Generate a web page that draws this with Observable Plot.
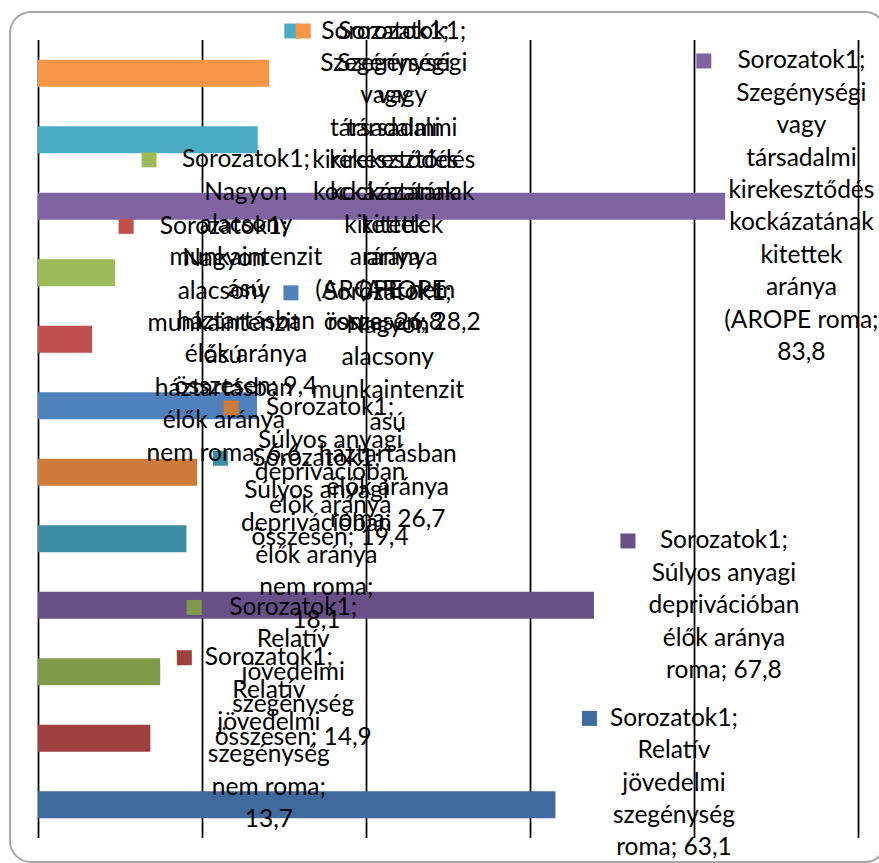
<!DOCTYPE html>
<html><head><meta charset="utf-8">
<script src="https://cdn.jsdelivr.net/npm/d3@7"></script>
<script src="https://cdn.jsdelivr.net/npm/@observablehq/plot@0.6"></script>
<style>
html,body{margin:0;padding:0;background:#fff;overflow:hidden;}
#wrap{position:relative;width:879px;height:863px;overflow:hidden;background:#fff;}
#frame{position:absolute;left:9px;top:11px;width:878px;height:852px;box-sizing:border-box;border:2px solid #a6a6a6;border-radius:22px;pointer-events:none;}
#chart{position:absolute;left:0;top:0;}
</style></head><body>
<div id="wrap"><div id="chart"></div><div id="frame"></div></div>
<script>
// ---- data (rows listed top to bottom) ----
const seriesName = "Sorozatok1";
const categories = [
  "Szegénységi vagy társadalmi kirekesztődés kockázatának kitettek aránya (AROPE összesen",
  "Szegénységi vagy társadalmi kirekesztődés kockázatának kitettek aránya (AROPE nem roma",
  "Szegénységi vagy társadalmi kirekesztődés kockázatának kitettek aránya (AROPE roma",
  "Nagyon alacsony munkaintenzitású háztartásban élők aránya összesen",
  "Nagyon alacsony munkaintenzitású háztartásban élők aránya nem roma",
  "Nagyon alacsony munkaintenzitású háztartásban élők aránya roma",
  "Súlyos anyagi deprivációban élők aránya összesen",
  "Súlyos anyagi deprivációban élők aránya nem roma",
  "Súlyos anyagi deprivációban élők aránya roma",
  "Relatív jövedelmi szegénység összesen",
  "Relatív jövedelmi szegénység nem roma",
  "Relatív jövedelmi szegénység roma"
];
const values = [28.2, 26.8, 83.8, 9.4, 6.6, 26.7, 19.4, 18.1, 67.8, 14.9, 13.7, 63.1];
const colors = ["#F79646","#4BACC6","#8064A2","#9BBB59","#C0504D","#4F81BD",
                "#CC7B38","#3C8DA3","#684F88","#7F9A48","#9E413E","#3F6A9E"];
// category text as wrapped in the data labels
const wrappedCategories = [
  "Szegénységi\nvagy\ntársadalmi\nkirekesztődés\nkockázatának\nkitettek\naránya\n(AROPE\nösszesen",
  "Szegénységi\nvagy\ntársadalmi\nkirekesztődés\nkockázatának\nkitettek\naránya\n(AROPE nem\nroma",
  "Szegénységi\nvagy\ntársadalmi\nkirekesztődés\nkockázatának\nkitettek\naránya\n(AROPE roma",
  "Nagyon\nalacsony\nmunkaintenzit\nású\nháztartásban\nélők aránya\nösszesen",
  "Nagyon\nalacsony\nmunkaintenzit\nású\nháztartásban\nélők aránya\nnem roma",
  "Nagyon\nalacsony\nmunkaintenzit\nású\nháztartásban\nélők aránya\nroma",
  "Súlyos anyagi\ndeprivációban\nélők aránya\nösszesen",
  "Súlyos anyagi\ndeprivációban\nélők aránya\nnem roma",
  "Súlyos anyagi\ndeprivációban\nélők aránya\nroma",
  "Relatív\njövedelmi\nszegénység\nösszesen",
  "Relatív\njövedelmi\nszegénység\nnem roma",
  "Relatív\njövedelmi\nszegénység\nroma"
];
const valueOnNewLine = [false,false,true,false,false,false,false,true,false,false,true,false];
const gridTicks = [0, 20, 40, 60, 80, 100];

// ---- layout ----
const W = 879, H = 863, mL = 38, mR = 21, mT = 40, mB = 25;
const padInner = 0.594, padOuter = 0.297;
const xS = Plot.scale({x: {domain: [0, 100], range: [mL, W - mR]}});
const yS = Plot.scale({y: {type: "band", domain: categories, range: [mT, H - mB], paddingInner: padInner, paddingOuter: padOuter, round: false}});
const bw = yS.bandwidth;

const family = "Lato";
const ctx = document.createElement("canvas").getContext("2d");
function measure(s, fs) { ctx.font = `${fs}px ${family}`; return ctx.measureText(s).width; }
const fs = 26.4 * 128 / measure(seriesName + ";", 26.4);
const LH = 32.4;
const fmt = v => v.toFixed(1).replace(".", ",");

const data = categories.map((c, i) => ({
  cat: c, value: values[i], color: colors[i],
  label: `${seriesName};\n${wrappedCategories[i]};${valueOnNewLine[i] ? "\n" : " "}${fmt(values[i])}`
}));

const labelMarks = [];
for (let i = data.length - 1; i >= 0; --i) {
  const d = data[i];
  const lines = d.label.split("\n");
  const n = lines.length;
  const maxW = d3.max(lines, l => measure(l, fs));
  const barEnd = xS.apply(d.value);
  let keyLeft = barEnd + 26;
  let center = keyLeft + 28 + maxW / 2;
  const over = center + maxW / 2 - 878;
  if (over > 0) { keyLeft -= over; center -= over; }
  const bandC = yS.apply(d.cat) + bw / 2;
  let first = bandC - (n - 1) / 2 * LH + 7.5;
  if (first < 38) first = 38;
  const last = first + (n - 1) * LH;
  if (last > 855) first -= last - 855;
  labelMarks.push(
    Plot.dot([d], {x: "value", y: "cat", dx: keyLeft + 7.5 - barEnd, dy: first - 7.5 - bandC,
      symbol: "square", r: 15 / Math.sqrt(Math.PI), fill: "color", stroke: "none"}),
    Plot.text([d], {x: "value", y: "cat", text: "label", dx: center - barEnd, dy: first - bandC - 0.71 * LH,
      textAnchor: "middle", lineAnchor: "top", lineHeight: LH / fs, fontSize: fs,
      fontFamily: family, fill: "#000"})
  );
}

const plot = Plot.plot({
  width: W, height: H,
  marginLeft: mL, marginRight: mR, marginTop: mT, marginBottom: mB,
  style: {background: "transparent", overflow: "visible"},
  x: {domain: [0, 100], axis: null},
  y: {domain: categories, axis: null, paddingInner: padInner, paddingOuter: padOuter, round: false},
  color: {type: "identity"},
  marks: [
    Plot.ruleX(gridTicks, {stroke: "#000", strokeWidth: 1.75}),
    Plot.barX(data, {x: "value", y: "cat", fill: "color"}),
    ...labelMarks
  ]
});
document.getElementById("chart").appendChild(plot);
</script>
</body></html>
